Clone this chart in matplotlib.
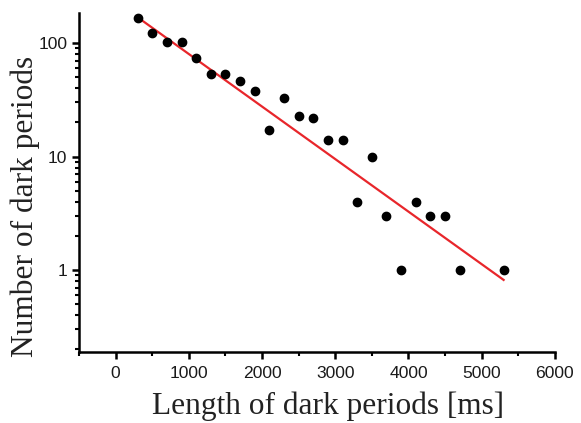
import numpy as np
import matplotlib
matplotlib.use('Agg')
import matplotlib.pyplot as plt
from matplotlib.ticker import FixedLocator, MultipleLocator, LogLocator, NullFormatter

# measured histogram of dark period lengths
length_ms = [300, 500, 700, 900, 1100, 1300, 1500, 1700, 1900, 2100, 2300, 2500,
             2700, 2900, 3100, 3300, 3500, 3700, 3900, 4100, 4300, 4500, 4700, 5300]
n_periods = [168, 124, 102, 102, 74, 53, 53, 46, 38, 17, 33, 23,
             22, 14, 14, 4, 10, 3, 1, 4, 3, 3, 1, 1]

# exponential fit y = A * exp(-x / tau)
fit_A = 233.0
fit_tau = 938.0
fit_range = [300, 5300]

fig = plt.figure(figsize=(5.81, 4.23), dpi=100)
ax = fig.add_axes([0.136, 0.168, 0.819, 0.801])

ax.plot(length_ms, n_periods, 'o', color='black', markersize=6, zorder=3)
xf = np.linspace(fit_range[0], fit_range[1], 50)
ax.plot(xf, fit_A * np.exp(-xf / fit_tau), color='#e8262b', linewidth=1.6, zorder=2)

ax.set_yscale('log')
ax.set_xlim(-500, 6000)
ax.set_ylim(0.19, 184)

ax.xaxis.set_major_locator(MultipleLocator(1000))
ax.xaxis.set_minor_locator(MultipleLocator(500))
ax.yaxis.set_major_locator(FixedLocator([1, 10, 100]))
ax.yaxis.set_minor_locator(LogLocator(base=10, subs=np.arange(2, 10)))
ax.yaxis.set_minor_formatter(NullFormatter())
ax.set_yticklabels(['1', '10', '100'])

for side in ['top', 'right']:
    ax.spines[side].set_visible(False)
for side in ['left', 'bottom']:
    ax.spines[side].set_linewidth(1.8)

ax.tick_params(which='major', length=5, width=1.8, direction='out', labelsize=12.6,
               labelcolor='#1a1a1a')
ax.tick_params(axis='x', which='major', pad=5)
ax.tick_params(which='minor', length=3, width=1.5, direction='out')
for lbl in ax.get_xticklabels() + ax.get_yticklabels():
    lbl.set_fontfamily('Liberation Sans')

ax.set_xlabel('Length of dark periods [ms]', fontsize=22.6, family='Liberation Serif',
              color='#222222')
ax.set_ylabel('Number of dark periods', fontsize=22.6, family='Liberation Serif',
              color='#222222')
ax.xaxis.set_label_coords(0.524, -0.116)
ax.yaxis.set_label_coords(-0.082, 0.429)

plt.savefig('out.png', dpi=100)
